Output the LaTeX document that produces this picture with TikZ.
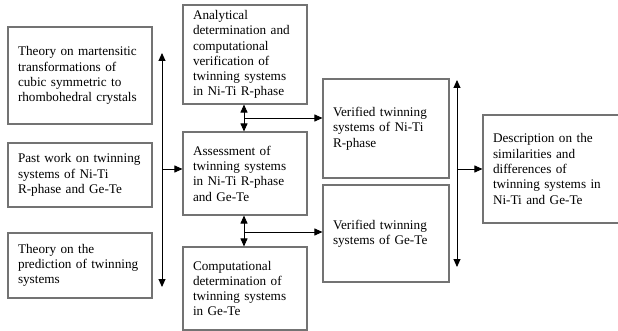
\documentclass[tikz,border=0pt]{standalone}
\usepackage{fontspec}
\setmainfont{Liberation Serif}
\usetikzlibrary{arrows.meta}
\begin{document}
\begin{tikzpicture}[x=1pt,y=-1pt,
  box/.style={draw=black!55, line width=1.1pt, fill=white, align=left,
    inner xsep=10pt, inner ysep=0pt, anchor=center,
    font=\fontsize{13.2}{15.3}\selectfont},
  arr/.style={draw=black, line width=0.9pt, -{Triangle[length=8pt,width=7pt]}},
  darr/.style={draw=black, line width=0.9pt, {Triangle[length=8pt,width=7pt]}-{Triangle[length=8pt,width=7pt]}}]
\useasboundingbox (0,0) rectangle (618,331);
\fill[white] (0,0) rectangle (618,331);
% left column
\node[box, text width=124pt, minimum height=97pt] (b1) at (80,75.5)
  {Theory on martensitic\\transformations of\\cubic symmetric to\\rhombohedral crystals};
\node[box, text width=124pt, minimum height=64pt] (b2) at (80,175)
  {Past work on twinning\\systems of Ni-Ti\\R-phase and Ge-Te};
\node[box, text width=124pt, minimum height=65pt] (b3) at (80,265.5)
  {Theory on the\\prediction of twinning\\systems};
% middle column
\node[box, text width=104pt, minimum height=99pt] (a1) at (245,54.5)
  {Analytical\\determination and\\computational\\verification of\\twinning systems\\in Ni-Ti R-phase};
\node[box, text width=104pt, minimum height=83pt] (a2) at (245,173.5)
  {Assessment of\\twinning systems\\in Ni-Ti R-phase\\and Ge-Te};
\node[box, text width=104pt, minimum height=83pt] (a3) at (245,288.5)
  {Computational\\determination of\\twinning systems\\in Ge-Te};
% verified column
\node[box, text width=106pt, minimum height=99pt] (v1) at (386,128.5)
  {Verified twinning\\systems of Ni-Ti\\R-phase};
\node[box, text width=106pt, minimum height=97pt] (v2) at (386,233.5)
  {Verified twinning\\systems of Ge-Te};
% description
\node[box, text width=125pt, minimum height=108pt] (d) at (555.5,169)
  {Description on the\\similarities and\\differences of\\twinning systems in\\Ni-Ti and Ge-Te};
% left connectors
\coordinate (L1) at (162,53);
\coordinate (L2) at (162,287);
\coordinate (Lm) at (162,169);
\draw[darr] (L1) -- (L2);
\draw[arr] (Lm) -- (Lm -| a2.west);
% middle connectors
\draw[darr] ([xshift=-1pt]a1.south) -- ([xshift=-1pt]a2.north);
\coordinate (M1) at (244,118);
\draw[arr] (M1) -- (M1 -| v1.west);
\draw[darr] ([xshift=-1pt]a2.south) -- ([xshift=-1pt]a3.north);
\coordinate (M2) at (244,232);
\draw[arr] (M2) -- (M2 -| v2.west);
% right connectors
\coordinate (R1) at (457,80);
\coordinate (R2) at (457,267);
\coordinate (Rm) at (457,169);
\draw[darr] (R1) -- (R2);
\draw[arr] (Rm) -- (Rm -| d.west);
\end{tikzpicture}
\end{document}
